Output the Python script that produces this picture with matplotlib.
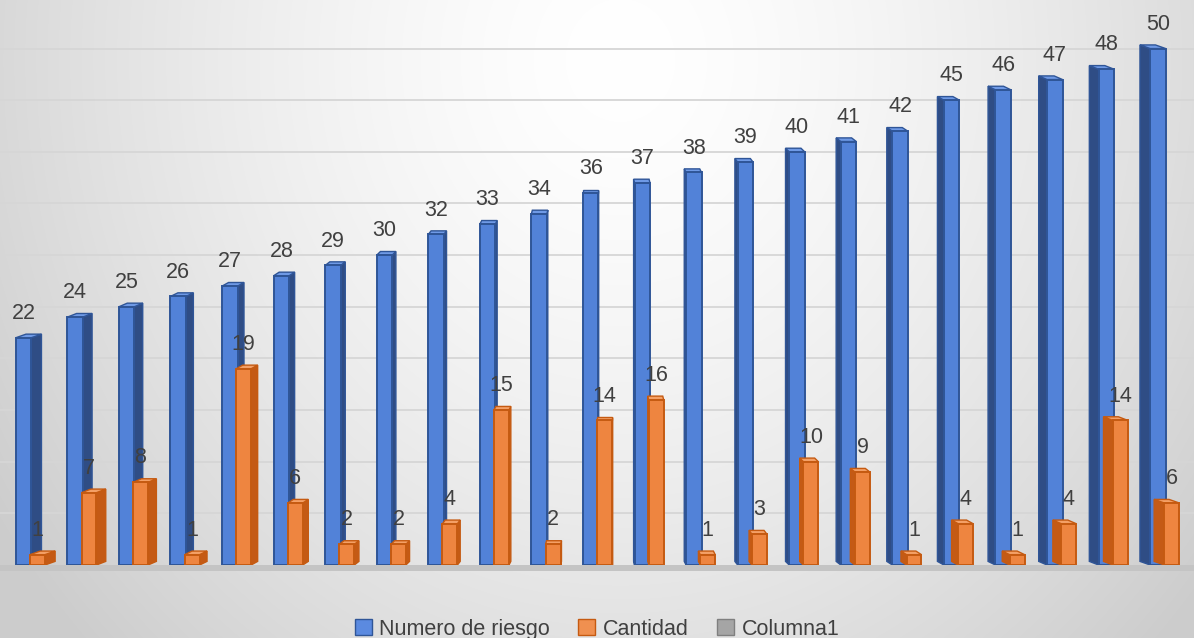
import numpy as np
import matplotlib.pyplot as plt
from matplotlib.patches import Polygon, Patch

riesgo = [22, 24, 25, 26, 27, 28, 29, 30, 32, 33, 34, 36, 37, 38, 39, 40, 41, 42, 45, 46, 47, 48, 50]
cantidad = [1, 7, 8, 1, 19, 6, 2, 2, 4, 15, 2, 14, 16, 1, 3, 10, 9, 1, 4, 1, 4, 14, 6]
columna1 = []
series_names = ['Numero de riesgo', 'Cantidad', 'Columna1']

W, H = 1194, 638
fig = plt.figure(figsize=(W / 100, H / 100), dpi=100)

# radial grey background
bg = fig.add_axes([0, 0, 1, 1])
yy, xx = np.mgrid[0:H, 0:W]
r = np.sqrt(((xx - 620) / 800.0) ** 2 + ((yy - 60) / 900.0) ** 2)
shade = np.clip(1.0 - 0.22 * r ** 1.5, 0.8, 1.0)
bg.imshow(np.dstack([shade] * 3), aspect='auto', extent=[0, W, H, 0])
bg.set_axis_off()

ax = fig.add_axes([0, 1 - 565 / H, 1, 565 / H])
ax.patch.set_alpha(0)
n = len(riesgo)
ax.set_xlim(-0.456, n - 1 + 0.70)
ax.set_ylim(0, 54.7)
for s in ax.spines.values():
    s.set_visible(False)
ax.set_xticks([])
ax.set_yticks([])

for g in range(5, 55, 5):
    ax.axhline(g, color='#d6d6d6', lw=1.3, zorder=0)

# floor
ax.add_patch(Polygon([(-0.456, 0), (n, 0), (n, -0.6), (-0.456, -0.6)], closed=True,
                     facecolor='#c4c4c4', edgecolor='none', clip_on=False, zorder=1))


def bar3d(x, h, w, face, side, top, edge, i, z):
    mid = (n - 1) / 2.0
    s = -0.018 * (i - mid)  # side depth: right side for left bars
    dy = 0.35
    x0, x1 = x - w / 2, x + w / 2
    if s >= 0:
        sp = [(x1, 0), (x1 + s, dy), (x1 + s, h + dy), (x1, h)]
    else:
        sp = [(x0, 0), (x0 + s, dy), (x0 + s, h + dy), (x0, h)]
    tp = [(x0, h), (x1, h), (x1 + s, h + dy), (x0 + s, h + dy)]
    ax.add_patch(Polygon(sp, closed=True, facecolor=side, edgecolor=edge, lw=1.0, zorder=z))
    ax.add_patch(Polygon(tp, closed=True, facecolor=top, edgecolor=edge, lw=1.0, zorder=z))
    ax.bar(x, h, width=w, color=face, edgecolor=edge, lw=1.4, zorder=z + 0.1)


xs = np.arange(n)
for i in range(n):
    bar3d(xs[i], riesgo[i], 0.30, '#5282d8', '#2f4d85', '#6f9ae6', '#2f5597', i, 2 + i * 0.01)
for i in range(n):
    bar3d(xs[i] + 0.27, cantidad[i], 0.29, '#ee8540', '#c45a15', '#f4a066', '#c55a11', i, 3 + i * 0.01)

for i in range(n):
    ax.annotate(str(riesgo[i]), (xs[i], riesgo[i]), xytext=(0, 10), textcoords='offset points',
                ha='center', va='bottom', fontsize=15.5, color='#404040', family='Liberation Sans',
                zorder=10)
    ax.annotate(str(cantidad[i]), (xs[i] + 0.27, cantidad[i]), xytext=(0, 10), textcoords='offset points',
                ha='center', va='bottom', fontsize=15.5, color='#404040', family='Liberation Sans',
                zorder=10)

handles = [Patch(facecolor='#5b8ae0', edgecolor='#2f5597'),
           Patch(facecolor='#f09050', edgecolor='#c55a11'),
           Patch(facecolor='#a5a5a5', edgecolor='#7f7f7f')]
fig.legend(handles, series_names, loc='lower center', bbox_to_anchor=(0.5, -0.033), ncol=3,
           frameon=False, prop={'family': 'Liberation Sans', 'size': 15.5}, handlelength=0.8,
           handleheight=0.8, handletextpad=0.35, columnspacing=1.3, labelcolor='#404040')

fig.savefig('out.png', dpi=100)
